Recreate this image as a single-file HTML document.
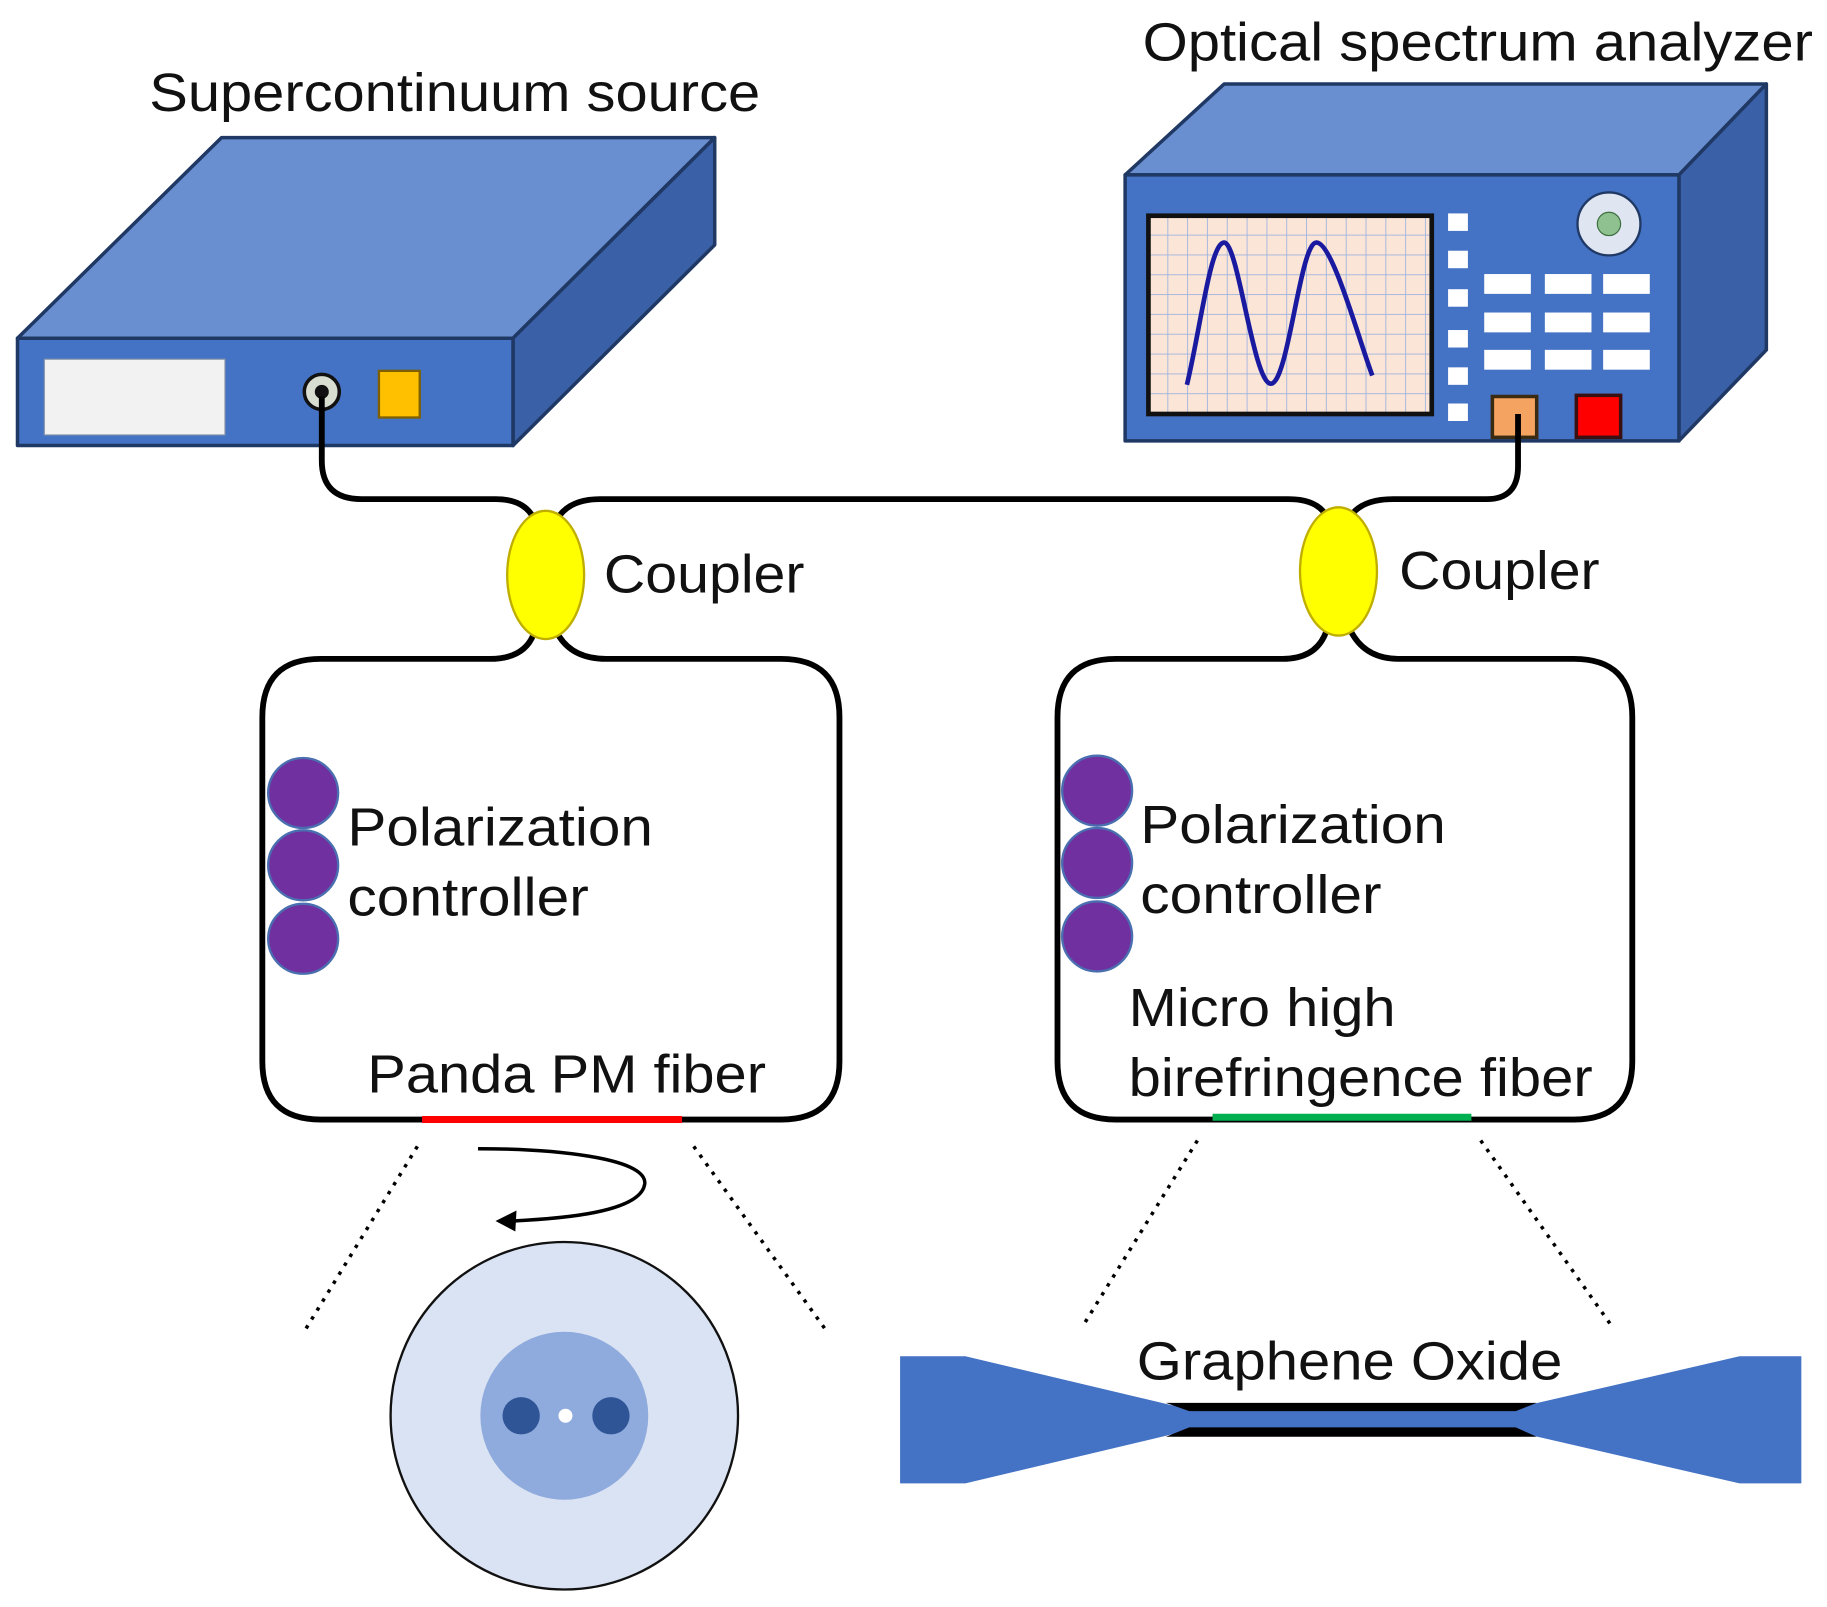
<!DOCTYPE html>
<html><head><meta charset="utf-8"><style>
html,body{margin:0;padding:0;background:#fff;}
svg{display:block;}
text{font-family:"Liberation Sans",Arial,sans-serif;fill:#111;}
</style></head><body>
<svg width="1827" height="1607" viewBox="0 0 1567 1378" preserveAspectRatio="none" xmlns="http://www.w3.org/2000/svg">
<defs>
<pattern id="grid" x="985" y="185" width="17" height="17" patternUnits="userSpaceOnUse">
<rect width="17" height="17" fill="#fbe5d6"/>
<path d="M17 0V17M0 17H17" stroke="#9db3e0" stroke-width="1.5"/>
</pattern>
</defs>
<text x="128" y="95" font-size="46" textLength="524" lengthAdjust="spacingAndGlyphs">Supercontinuum source</text>
<text x="980" y="52" font-size="46" textLength="575" lengthAdjust="spacingAndGlyphs">Optical spectrum analyzer</text>

<g stroke="#1f3864" stroke-width="3" stroke-linejoin="round">
<polygon points="15,290 190,118 613,118 440,290" fill="#6a8fd0"/>
<polygon points="440,290 613,118 613,210 440,382" fill="#3a60a8"/>
<rect x="15" y="290" width="425" height="92" fill="#4472c4"/>
</g>
<rect x="38" y="308" width="155" height="65" fill="#f2f2f2" stroke="#7f8fa8" stroke-width="1"/>
<circle cx="276" cy="336" r="15" fill="#d9dfd0" stroke="#111" stroke-width="3"/>
<circle cx="276" cy="336" r="6" fill="#111"/>
<rect x="325" y="318" width="35" height="40" fill="#ffc000" stroke="#7f6000" stroke-width="2"/>

<g stroke="#1f3864" stroke-width="3" stroke-linejoin="round">
<polygon points="965,150 1050,72 1515,72 1440,150" fill="#6a8fd0"/>
<polygon points="1440,150 1515,72 1515,300 1440,378" fill="#3a60a8"/>
<rect x="965" y="150" width="475" height="228" fill="#4472c4"/>
</g>
<rect x="985" y="185" width="243" height="170" fill="url(#grid)" stroke="#111" stroke-width="4"/>
<path d="M1018,330 C1030,280 1038,208 1050,208 C1062,208 1075,329 1090,329 C1105,329 1115,208 1129,208 C1143,208 1165,290 1177,322" fill="none" stroke="#1a1aa0" stroke-width="4"/>
<g fill="#fff">
<rect x="1242" y="183" width="17" height="15"/><rect x="1242" y="215" width="17" height="15"/><rect x="1242" y="248" width="17" height="15"/><rect x="1242" y="283" width="17" height="15"/><rect x="1242" y="315" width="17" height="15"/><rect x="1242" y="346" width="17" height="15"/>
<rect x="1273" y="235" width="40" height="17"/><rect x="1325" y="235" width="40" height="17"/><rect x="1375" y="235" width="40" height="17"/>
<rect x="1273" y="268" width="40" height="17"/><rect x="1325" y="268" width="40" height="17"/><rect x="1375" y="268" width="40" height="17"/>
<rect x="1273" y="300" width="40" height="17"/><rect x="1325" y="300" width="40" height="17"/><rect x="1375" y="300" width="40" height="17"/>
</g>
<circle cx="1380" cy="192" r="27" fill="#dfe6f2" stroke="#1f3864" stroke-width="2"/>
<circle cx="1380" cy="192" r="10" fill="#8fc08f" stroke="#3d6e3d" stroke-width="1"/>
<rect x="1280" y="340" width="38" height="35" fill="#f4a460" stroke="#3a2a10" stroke-width="3"/>
<rect x="1352" y="339" width="38" height="36" fill="#ff0000" stroke="#3a1010" stroke-width="3"/>

<g fill="none" stroke="#000" stroke-width="5">
<path d="M276,340 V395 Q276,428 310,428 H425 Q450,428 458,445"/>
<path d="M478,445 Q488,428 515,428 H1105 Q1130,428 1138,443"/>
<path d="M1158,443 Q1168,428 1195,428 H1275 Q1302,428 1302,400 V355"/>
<path d="M458,543 Q450,565 420,565 H275 Q225,565 225,615 V910 Q225,960 275,960 H670 Q720,960 720,910 V615 Q720,565 670,565 H520 Q490,565 478,543"/>
<path d="M1138,540 Q1130,565 1100,565 H957 Q907,565 907,615 V910 Q907,960 957,960 H1350 Q1400,960 1400,910 V615 Q1400,565 1350,565 H1200 Q1170,565 1158,540"/>
</g>
<ellipse cx="468" cy="493" rx="33" ry="55" fill="#ffff00" stroke="#bfae00" stroke-width="2"/>
<ellipse cx="1148" cy="490" rx="33" ry="55" fill="#ffff00" stroke="#bfae00" stroke-width="2"/>
<g font-size="46" lengthAdjust="spacingAndGlyphs">
<text x="518" y="508" textLength="172" lengthAdjust="spacingAndGlyphs">Coupler</text>
<text x="1200" y="505" textLength="172" lengthAdjust="spacingAndGlyphs">Coupler</text>
</g>

<g fill="#7030a0" stroke="#4a6fb0" stroke-width="2">
<circle cx="260" cy="680" r="30"/><circle cx="260" cy="742" r="30"/><circle cx="260" cy="805" r="30"/>
<circle cx="941" cy="678" r="30"/><circle cx="941" cy="740" r="30"/><circle cx="941" cy="803" r="30"/>
</g>
<g font-size="46">
<text x="298" y="725" textLength="262" lengthAdjust="spacingAndGlyphs">Polarization</text>
<text x="298" y="785" textLength="207" lengthAdjust="spacingAndGlyphs">controller</text>
<text x="978" y="723" textLength="262" lengthAdjust="spacingAndGlyphs">Polarization</text>
<text x="978" y="783" textLength="207" lengthAdjust="spacingAndGlyphs">controller</text>
<text x="968" y="880" textLength="229" lengthAdjust="spacingAndGlyphs">Micro high</text>
<text x="968" y="940" textLength="398" lengthAdjust="spacingAndGlyphs">birefringence fiber</text>
<text x="315" y="937" textLength="342" lengthAdjust="spacingAndGlyphs">Panda PM fiber</text>
</g>
<line x1="362" y1="960" x2="585" y2="960" stroke="#ff0000" stroke-width="6"/>
<line x1="1040" y1="958" x2="1262" y2="958" stroke="#00b050" stroke-width="6"/>

<g stroke="#000" stroke-width="3" stroke-dasharray="3,6" fill="none">
<line x1="358" y1="983" x2="262" y2="1140"/>
<line x1="595" y1="983" x2="708" y2="1140"/>
<line x1="1027" y1="978" x2="930" y2="1135"/>
<line x1="1270" y1="978" x2="1383" y2="1138"/>
</g>
<path d="M410,985 C470,985 555,992 553,1015 C550,1040 480,1045 440,1047" fill="none" stroke="#000" stroke-width="3"/>
<polygon points="425,1047 443,1038 442,1056" fill="#000"/>

<circle cx="484" cy="1214" r="149" fill="#dae3f3" stroke="#111" stroke-width="2"/>
<circle cx="484" cy="1214" r="72" fill="#8faadc"/>
<circle cx="447" cy="1214" r="16" fill="#2f5597"/>
<circle cx="524" cy="1214" r="16" fill="#2f5597"/>
<circle cx="485" cy="1214" r="6" fill="#fff"/>

<polygon points="772,1163 828,1163 1005,1205 1310,1205 1492,1163 1545,1163 1545,1272 1492,1272 1310,1230 1005,1230 828,1272 772,1272" fill="#4472c4"/>
<polygon points="1000,1203 1318,1203 1300,1210 1020,1210" fill="#000"/>
<polygon points="1020,1224 1300,1224 1318,1232 1000,1232" fill="#000"/>
<text x="975" y="1183" font-size="46" textLength="365" lengthAdjust="spacingAndGlyphs">Graphene Oxide</text>
</svg>
</body></html>
